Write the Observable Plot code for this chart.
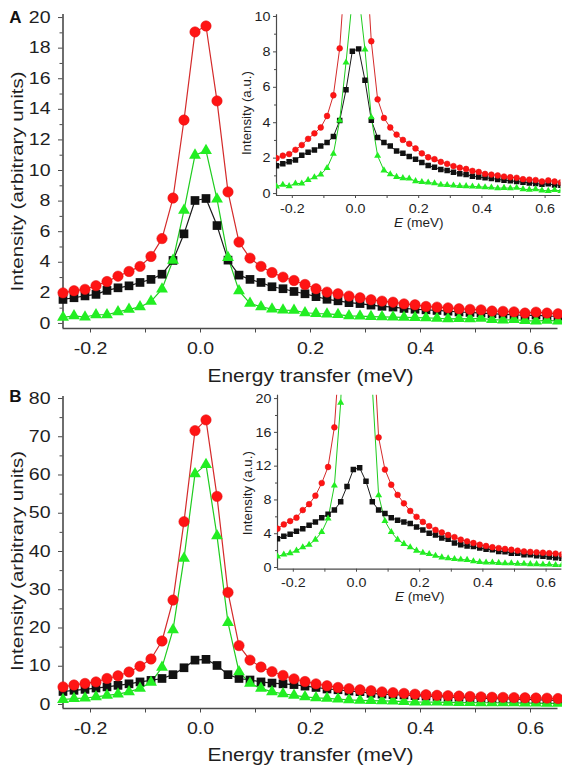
<!DOCTYPE html>
<html>
<head>
<meta charset="utf-8">
<script src="https://cdn.jsdelivr.net/npm/d3@7"></script>
<script src="https://cdn.jsdelivr.net/npm/@observablehq/plot@0.6"></script>
<style>
  html, body { margin: 0; padding: 0; background: #fff; }
  #wrap { position: relative; width: 562px; height: 766px; overflow: hidden; font-family: "Liberation Sans", Arial, sans-serif; }
  #wrap > div { position: absolute; }
  svg { overflow: visible; }
</style>
</head>
<body>
<div id="wrap">
  <div id="mainA" style="left:0;top:0"></div>
  <div id="mainB" style="left:0;top:383px"></div>
  <div id="insetA" style="left:220px;top:0"></div>
  <div id="insetB" style="left:220px;top:383px"></div>
</div>
<script>
// ---------------- data ----------------
const energy = [-0.25,-0.23,-0.21,-0.19,-0.17,-0.15,-0.13,-0.11,-0.09,-0.07,-0.05,-0.03,-0.01,
  0.01,0.03,0.05,0.07,0.09,0.11,0.13,0.15,0.17,0.19,0.21,0.23,0.25,0.27,0.29,0.31,0.33,0.35,
  0.37,0.39,0.41,0.43,0.45,0.47,0.49,0.51,0.53,0.55,0.57,0.59,0.61,0.63,0.65];

// Panel A
const redA = [2.0,2.14,2.23,2.47,2.74,3.09,3.4,3.73,4.38,5.55,8.2,13.3,19.06,
  19.45,14.55,8.6,5.32,4.27,3.73,3.33,3.03,2.81,2.55,2.27,2.05,1.94,1.79,1.68,1.55,1.46,1.39,
  1.28,1.22,1.11,1.07,1.02,0.96,0.92,0.89,0.81,0.79,0.76,0.68,0.74,0.68,0.63];
const blackA = [1.57,1.68,1.8,1.9,2.16,2.33,2.46,2.68,2.88,3.22,4.12,5.86,8.04,
  8.17,6.4,4.14,3.16,2.88,2.68,2.4,2.27,2.09,1.94,1.75,1.58,1.48,1.36,1.3,1.2,1.12,1.07,
  0.98,0.93,0.89,0.85,0.8,0.75,0.72,0.68,0.64,0.6,0.57,0.52,0.55,0.48,0.47];
const greenA = [0.4,0.5,0.42,0.57,0.57,0.76,0.92,1.08,1.44,2.25,4.13,7.4,11.0,
  11.3,8.13,4.31,2.13,1.31,1.09,0.94,0.87,0.85,0.7,0.65,0.62,0.58,0.5,0.48,0.45,0.43,0.42,
  0.4,0.38,0.36,0.34,0.3,0.32,0.3,0.33,0.25,0.22,0.25,0.18,0.15,0.2,0.15];

// Panel B
const redB = [4.6,5.1,5.5,5.9,6.8,7.5,8.5,10.0,11.9,16.6,27.3,47.8,71.6,
  74.4,54.4,29.3,15.4,11.6,9.8,8.6,7.6,6.7,6.0,5.4,4.9,4.45,4.15,3.85,3.6,3.3,3.1,
  2.9,2.7,2.55,2.4,2.3,2.2,2.1,2.0,1.9,1.85,1.8,1.75,1.7,1.65,1.55];
const blackB = [3.4,3.7,3.95,4.3,4.6,5.0,5.4,5.9,6.3,6.8,7.8,9.6,11.6,
  11.8,10.2,7.8,6.8,6.4,5.9,5.6,5.4,5.2,4.8,4.45,4.05,3.85,3.5,3.35,2.9,2.7,2.56,
  2.48,2.3,2.17,2.09,1.9,1.88,1.7,1.68,1.52,1.5,1.4,1.32,1.24,1.15,1.1];
const greenB = [1.3,1.55,1.7,2.0,2.4,2.7,3.3,4.2,5.8,9.7,19.5,38.2,60.3,
  62.7,44.1,21.4,8.55,5.5,4.2,3.3,2.8,2.4,2.0,1.75,1.6,1.4,1.2,1.1,1.0,0.95,0.9,
  0.75,0.65,0.6,0.6,0.55,0.5,0.5,0.45,0.45,0.4,0.4,0.35,0.35,0.3,0.3];

// ticks
const xMajor = [-0.2, 0, 0.2, 0.4, 0.6];
const xMinor = [-0.1, 0.1, 0.3, 0.5];
const yMajorA = [0,2,4,6,8,10,12,14,16,18,20];
const yMinorA = [1,3,5,7,9,11,13,15,17,19];
const yMajorB = [0,10,20,30,40,50,60,70,80];
const yMinorB = [5,15,25,35,45,55,65,75];
const yMajorInA = [0,2,4,6,8,10];
const yMinorInA = [1,3,5,7,9];
const yMajorInB = [0,4,8,12,16,20];
const yMinorInB = [2,6,10,14,18];

const mainXLabel = "Energy transfer (meV)";
const mainYLabel = "Intensity (arbitrary units)";
const insetXLabel = "E (meV)";
const insetYLabel = "Intensity (a.u.)";

// ---------------- styles ----------------
const FONT = "Liberation Sans, Arial, sans-serif";
const AX = "#4a4a4a";
const TXT = "#1e1e1e";
const C = {
  red:   {fill: "#ff1414", line: "#d42a2a"},
  black: {fill: "#111111", line: "#1a1a1a"},
  green: {fill: "#22ee22", line: "#1fcc1f"}
};

function rows(arr) { return energy.map((x, i) => ({x, y: arr[i]})); }

function seriesMarks(red, black, green, sz, lw, clip) {
  const r = rows(red), b = rows(black), g = rows(green);
  return [
    Plot.line(b, {x: "x", y: "y", stroke: C.black.line, strokeWidth: lw, clip}),
    Plot.line(g, {x: "x", y: "y", stroke: C.green.line, strokeWidth: lw, clip}),
    Plot.line(r, {x: "x", y: "y", stroke: C.red.line, strokeWidth: lw, clip}),
    Plot.dot(b, {x: "x", y: "y", symbol: "square", r: sz.sq, fill: C.black.fill, clip}),
    Plot.dot(g, {x: "x", y: "y", symbol: "triangle", r: sz.tri, fill: C.green.fill, clip}),
    Plot.dot(r, {x: "x", y: "y", symbol: "circle", r: sz.circ, fill: C.red.fill, stroke: "#e01010", strokeWidth: 0.5, clip})
  ];
}

function axesMarks(o) {
  return [
    Plot.ruleX([o.xDomain[0]], {stroke: AX, strokeWidth: o.axW}),
    Plot.ruleY([o.yDomain[0]], {stroke: AX, strokeWidth: o.axW}),
    Plot.axisX(xMajor, {tickSize: o.tick, tickPadding: o.xPad, fontSize: o.fs, stroke: AX, fill: TXT,
      tickFormat: d => d.toFixed(1), label: null}),
    Plot.axisX(xMinor, {tickSize: o.tick, stroke: AX, tickFormat: () => "", label: null}),
    Plot.axisY(o.yMajor, {tickSize: o.tick, tickPadding: o.yPad, fontSize: o.fs, stroke: AX, fill: TXT,
      tickFormat: d => String(d), label: null}),
    Plot.axisY(o.yMinor, {tickSize: o.minorTick, stroke: AX, tickFormat: () => "", label: null}),
    Plot.text([o.xLabel], {frameAnchor: "bottom", dy: o.xLabDy, fontSize: o.labFs, fill: TXT,
      textAnchor: "middle", lineAnchor: "middle"}),
    Plot.text([o.yLabel], {frameAnchor: "left", dx: o.yLabDx, dy: o.yLabDy, rotate: -90, fontSize: o.yLabFs || o.labFs, fill: TXT,
      textAnchor: "middle", lineAnchor: "middle"})
  ];
}

// the reference figure is slightly stretched horizontally; mimic with textLength
function stretchTexts(svg, o) {
  d3.select(svg).selectAll("text").each(function() {
    const s = this.textContent;
    if (!s) return;
    let target;
    if (s === o.xLabel) target = o.xLabLen;
    else if (s === o.yLabel) target = o.yLabLen;
    else if (o.skip && o.skip.includes(s)) return;
    else target = this.getComputedTextLength() * o.factor;
    if (target) {
      this.setAttribute("textLength", target.toFixed(1));
      this.setAttribute("lengthAdjust", "spacingAndGlyphs");
    }
  });
}

function mainPanel(o) {
  return Plot.plot({
    width: 562, height: 383,
    marginLeft: 62.5, marginRight: 4.5, marginTop: o.mt, marginBottom: o.mb,
    style: {fontFamily: FONT, background: "transparent", overflow: "visible"},
    x: {domain: [-0.25, 0.65], axis: null},
    y: {domain: o.yDomain, axis: null},
    marks: [
      ...axesMarks({xDomain: [-0.25, 0.65], yDomain: o.yDomain, yMajor: o.yMajor, yMinor: o.yMinor,
        axW: 1.6, tick: 4.5, minorTick: 3, xPad: 9.5, yPad: 8, fs: 16, labFs: 17.5, yLabFs: 17,
        xLabel: mainXLabel, yLabel: mainYLabel, xLabDy: o.xLabDy, yLabDx: -45.5, yLabDy: o.yLabDy}),
      ...seriesMarks(o.red, o.black, o.green, {circ: 5.2, sq: 4.9, tri: 4.4}, 1.2, false),
      Plot.text([o.letter], {frameAnchor: "top-left", dx: -47.5, dy: o.letterDy, fontSize: 17, fontWeight: "bold",
        fill: "#111", textAnchor: "middle", lineAnchor: "middle"})
    ]
  });
}

function insetPanel(o) {
  const svg = Plot.plot({
    width: 342, height: 230,
    marginLeft: o.ml, marginRight: o.mr, marginTop: o.mt, marginBottom: o.mb,
    style: {fontFamily: FONT, background: "transparent", overflow: "visible"},
    x: {domain: [-0.25, 0.65], axis: null},
    y: {domain: o.yDomain, axis: null},
    marks: [
      ...axesMarks({xDomain: [-0.25, 0.65], yDomain: o.yDomain, yMajor: o.yMajor, yMinor: o.yMinor,
        axW: 1.2, tick: 3, minorTick: 2, xPad: o.xPad, yPad: 3, fs: 13, labFs: 13.5, yLabFs: 12,
        xLabel: insetXLabel, yLabel: insetYLabel, xLabDy: o.xLabDy, yLabDx: -29, yLabDy: o.yLabDy}),
      ...seriesMarks(o.red, o.black, o.green, {circ: 2.9, sq: 3.1, tri: 2.6}, 1.0, true)
    ]
  });
  d3.select(svg).selectAll("text").filter(function() { return this.textContent === insetXLabel; })
    .each(function() {
      const t = d3.select(this);
      t.text(null);
      t.append("tspan").attr("font-style", "italic").text("E");
      t.append("tspan").text(" (meV)");
    });
  return svg;
}

const sA = mainPanel({
  yDomain: [-0.33, 20.2], yMajor: yMajorA, yMinor: yMinorA, mt: 14, mb: 55,
  red: redA, black: blackA, green: greenA, letter: "A", letterDy: 3, xLabDy: 48, yLabDy: 10
});
document.getElementById("mainA").append(sA);
const sB = mainPanel({
  yDomain: [-1.05, 80.52], yMajor: yMajorB, yMinor: yMinorB, mt: 13, mb: 58,
  red: redB, black: blackB, green: greenB, letter: "B", letterDy: 0, xLabDy: 47, yLabDy: 8.5
});
document.getElementById("mainB").append(sB);
const iA = insetPanel({
  yDomain: [-0.11, 10.1], yMajor: yMajorInA, yMinor: yMinorInA, ml: 56, mr: 1.6, mt: 14.2, mb: 35,
  red: redA, black: blackA, green: greenA, xPad: 5, xLabDy: 27, yLabDy: 8
});
document.getElementById("insetA").append(iA);
const iB = insetPanel({
  yDomain: [-0.2, 20.4], yMajor: yMajorInB, yMinor: yMinorInB, ml: 57, mr: 0.6, mt: 11.7, mb: 44.3,
  red: redB, black: blackB, green: greenB, xPad: 6, xLabDy: 27.5, yLabDy: 11
});
document.getElementById("insetB").append(iB);

for (const s of [sA, sB]) {
  stretchTexts(s, {xLabel: mainXLabel, xLabLen: 206, yLabel: mainYLabel, yLabLen: 220, factor: 1.22, skip: ["A", "B"]});
}
for (const s of [iA, iB]) {
  stretchTexts(s, {xLabel: "", yLabel: insetYLabel, yLabLen: 84, factor: 1.1, skip: [insetXLabel]});
}
</script>
</body>
</html>
